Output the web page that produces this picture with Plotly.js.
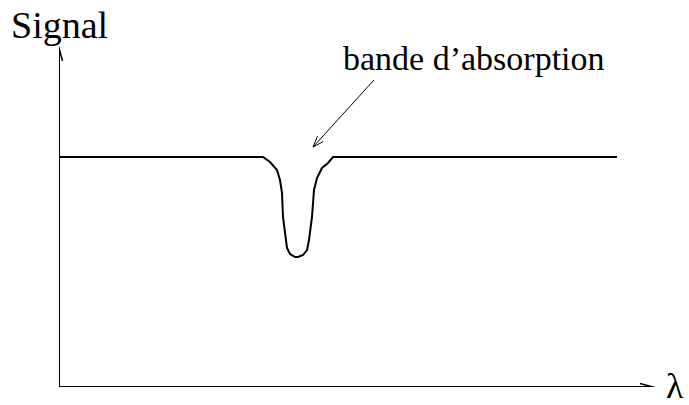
<!DOCTYPE html>
<html>
<head>
<meta charset="utf-8">
<script src="https://cdn.plot.ly/plotly-3.0.1.min.js"></script>
<style>
  html, body { margin: 0; padding: 0; background: #fff; }
  #plot { width: 689px; height: 405px; }
</style>
</head>
<body>
<div id="plot"></div>
<script>
const lambda = [1, 204, 211, 218, 221, 223, 224, 227, 228, 231, 236, 239, 244, 248, 250, 253, 255, 258, 263, 269, 274, 558];
const signal = [230, 230, 225, 217, 207, 194, 170, 147, 139, 133, 130, 130, 132, 137, 147, 170, 197, 209, 219, 224, 230, 230];

const xMax = 594;   // bout de la fleche de l'axe lambda
const yMax = 339;   // bout de la fleche de l'axe Signal
const bandTip = [254, 240];
const bandTail = [315, 307];

const font = 'Liberation Serif, Times New Roman, serif';

const trace = {
    x: lambda,
    y: signal,
    type: 'scatter',
    mode: 'lines',
    line: { color: '#000', width: 2 },
    hoverinfo: 'skip'
};

// pointe de fleche ouverte (en V) au point tip, venant de tail
function head(tip, tail, len, half, width) {
    const dx = tip[0] - tail[0], dy = tip[1] - tail[1];
    const d = Math.sqrt(dx * dx + dy * dy);
    const ux = dx / d, uy = dy / d;
    const bx = tip[0] - ux * len, by = tip[1] - uy * len;
    const p1 = [bx - uy * half, by + ux * half];
    const p2 = [bx + uy * half, by - ux * half];
    return {
        type: 'path', xref: 'x', yref: 'y',
        path: 'M' + p1[0] + ',' + p1[1] + 'L' + tip[0] + ',' + tip[1] + 'L' + p2[0] + ',' + p2[1],
        line: { color: '#000', width: width }
    };
}

function seg(a, b, width) {
    return {
        type: 'line', xref: 'x', yref: 'y',
        x0: a[0], y0: a[1], x1: b[0], y1: b[1],
        line: { color: '#000', width: width }
    };
}

const layout = {
    width: 689,
    height: 405,
    margin: { l: 59, r: 0, t: 10, b: 18 },
    paper_bgcolor: '#fff',
    plot_bgcolor: '#fff',
    showlegend: false,
    xaxis: { range: [0, 630], visible: false, fixedrange: true },
    yaxis: { range: [0, 377], visible: false, fixedrange: true },
    shapes: [
        seg([0, 0], [0, yMax], 2),
        seg([0, 0], [xMax, 0], 2),
        head([0, yMax], [0, 0], 13, 3.5, 1.5),
        head([xMax, 0], [0, 0], 13, 3.5, 1.5),
        seg(bandTail, bandTip, 1),
        head(bandTip, bandTail, 11, 4, 1)
    ],
    annotations: [
        { x: 0, y: 362, xref: 'x', yref: 'y', text: 'Signal', showarrow: false,
          font: { family: font, size: 38, color: '#000' } },
        { x: 415, y: 329, xref: 'x', yref: 'y', text: 'bande d\u2019absorption', showarrow: false,
          font: { family: font, size: 34, color: '#000' } },
        { x: 616, y: 1, xref: 'x', yref: 'y', text: '\u03bb', showarrow: false,
          font: { family: font, size: 36, color: '#000' } }
    ]
};

Plotly.newPlot('plot', [trace], layout, { staticPlot: true });
</script>
</body>
</html>
